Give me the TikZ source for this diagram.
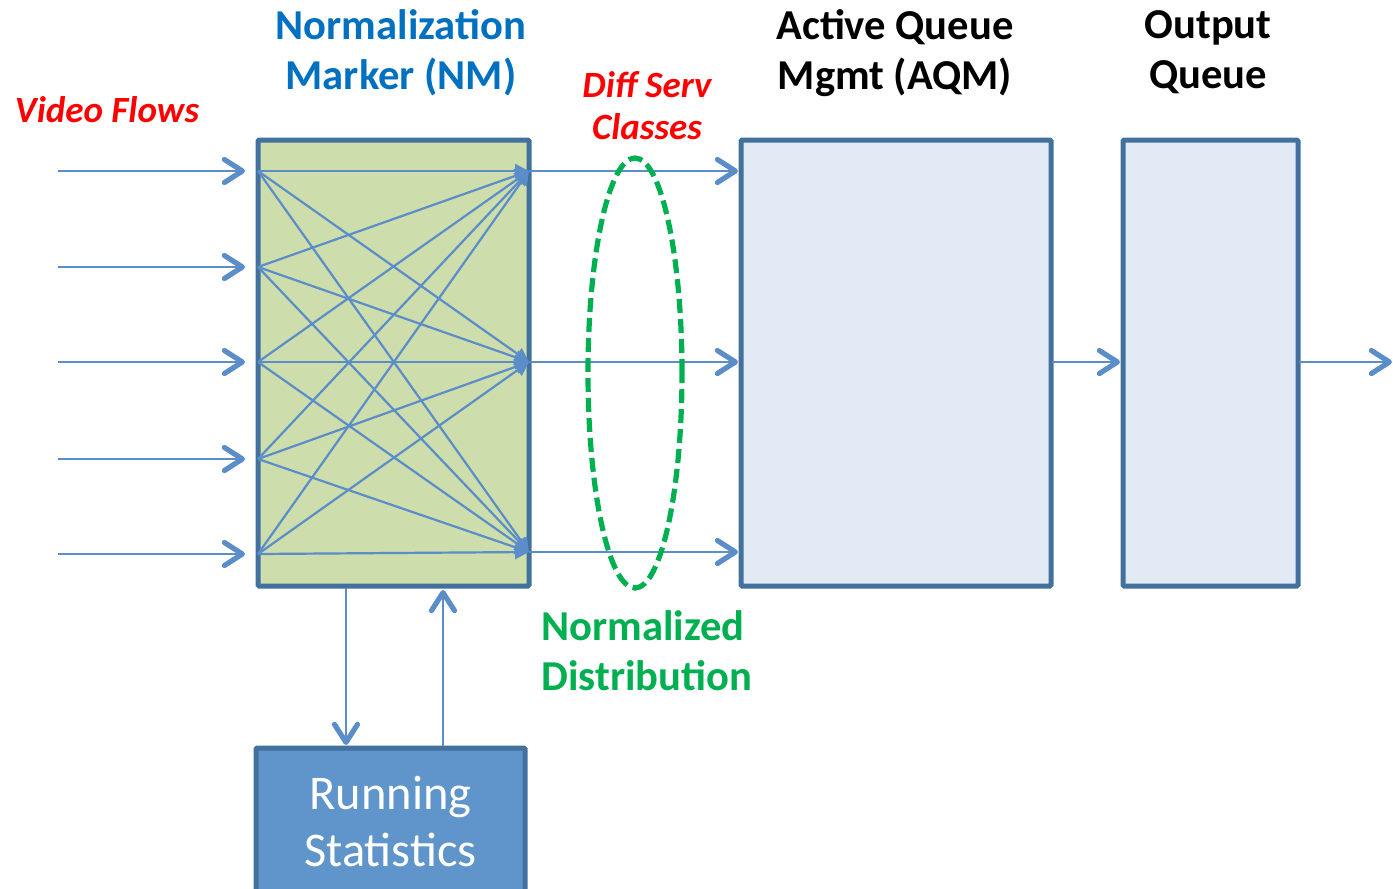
\documentclass[tikz,border=0pt]{standalone}
\usepackage{fontspec}
\setmainfont{Carlito}
\usetikzlibrary{arrows.meta,shapes.geometric}
\definecolor{flow}{HTML}{5B8DC8}
\definecolor{frame}{HTML}{41719C}
\definecolor{nmfill}{HTML}{CDDDAC}
\definecolor{qfill}{HTML}{E2EAF5}
\definecolor{rsfill}{HTML}{5F95CA}
\definecolor{nmblue}{HTML}{0070C0}
\definecolor{dgreen}{HTML}{00B050}
\definecolor{lred}{HTML}{FF0000}
\begin{document}
\begin{tikzpicture}[x=0.5pt,y=-0.5pt,
  box/.style={draw=frame,line width=2.5pt,rounded corners=0.6pt,inner sep=0pt},
  flowline/.style={draw=flow,line width=1.1pt},
  openarrow/.style={flowline,-{Straight Barb[length=9pt,width=11.5pt,line width=2.6pt,round]}},
  fillarrow/.style={flowline,-{Triangle[length=7pt,width=7pt]}},
  headbig/.style={font=\fontsize{21.3}{25}\selectfont\bfseries,align=center,inner sep=0pt},
  headred/.style={font=\fontsize{18.5}{21}\selectfont\bfseries\itshape,text=lred,align=center,inner sep=0pt}
]
\useasboundingbox (0,0) rectangle (1393,889);

% boxes
\node[box,fill=nmfill,minimum width=135.5pt,minimum height=223pt] (nm) at (393.5,363) {};
\node[box,fill=qfill,minimum width=155pt,minimum height=223pt] (aqm) at (896,363) {};
\node[box,fill=qfill,minimum width=87.5pt,minimum height=223pt] (oq) at (1210.5,363) {};
\node[box,fill=rsfill,minimum width=134.5pt,minimum height=74pt,text=white,align=center,
      font=\fontsize{24.2}{28.5}\selectfont] (rs) at (390.5,822) {Running\\Statistics};

% ports
\foreach \y [count=\i] in {171,267,362,459,554} {
  \coordinate (src\i) at (58,\y);
  \coordinate (tip\i) at (245,\y);
  \coordinate (l\i) at (258,\y);
}
\foreach \y [count=\j] in {171,362,552} {
  \coordinate (r\j) at (529,\y);
  \coordinate (q\j) at (738,\y);
}

% input flows
\foreach \i in {1,...,5} \draw[openarrow] (src\i) -- (tip\i);
% marker mesh
\foreach \i in {1,...,5} \foreach \j in {1,2,3} \draw[fillarrow] (l\i) -- (r\j);
% diff serv classes
\foreach \j in {1,2,3} \draw[openarrow] (r\j) -- (q\j);

% queue chain
\coordinate (oqin) at (1120,362);
\coordinate (out) at (1392,362);
\coordinate (aqmout) at (1052,362);
\coordinate (oqout) at (1299,362);
\draw[openarrow] (aqmout) -- (oqin);
\draw[openarrow] (oqout) -- (out);

% running statistics links
\coordinate (dtop) at (346,588);
\coordinate (dbot) at (346,745);
\coordinate (ubot) at (443,746);
\coordinate (utop) at (443,590);
\draw[openarrow] (dtop) -- (dbot);
\draw[openarrow] (ubot) -- (utop);

% normalized distribution ellipse
\node[ellipse,draw=dgreen,line width=2.6pt,dash pattern=on 7pt off 3pt,
      minimum width=47pt,minimum height=215pt,inner sep=0pt] (nd) at (635,373) {};

% labels
\node[headred] (vf) at (107,110) {Video Flows};
\node[headbig,text=nmblue] (nml) at (401,53) {Normalization\\Marker (NM)};
\node[headred] (dsc) at (647,106) {Diff Serv\\Classes};
\node[headbig] (aqml) at (895,53) {Active Queue\\Mgmt (AQM)};
\node[headbig] (oql) at (1208,52) {Output\\Queue};
\node[headbig,text=dgreen,anchor=west,align=left] (ndl) at (541,651) {Normalized\\Distribution};
\end{tikzpicture}
\end{document}
